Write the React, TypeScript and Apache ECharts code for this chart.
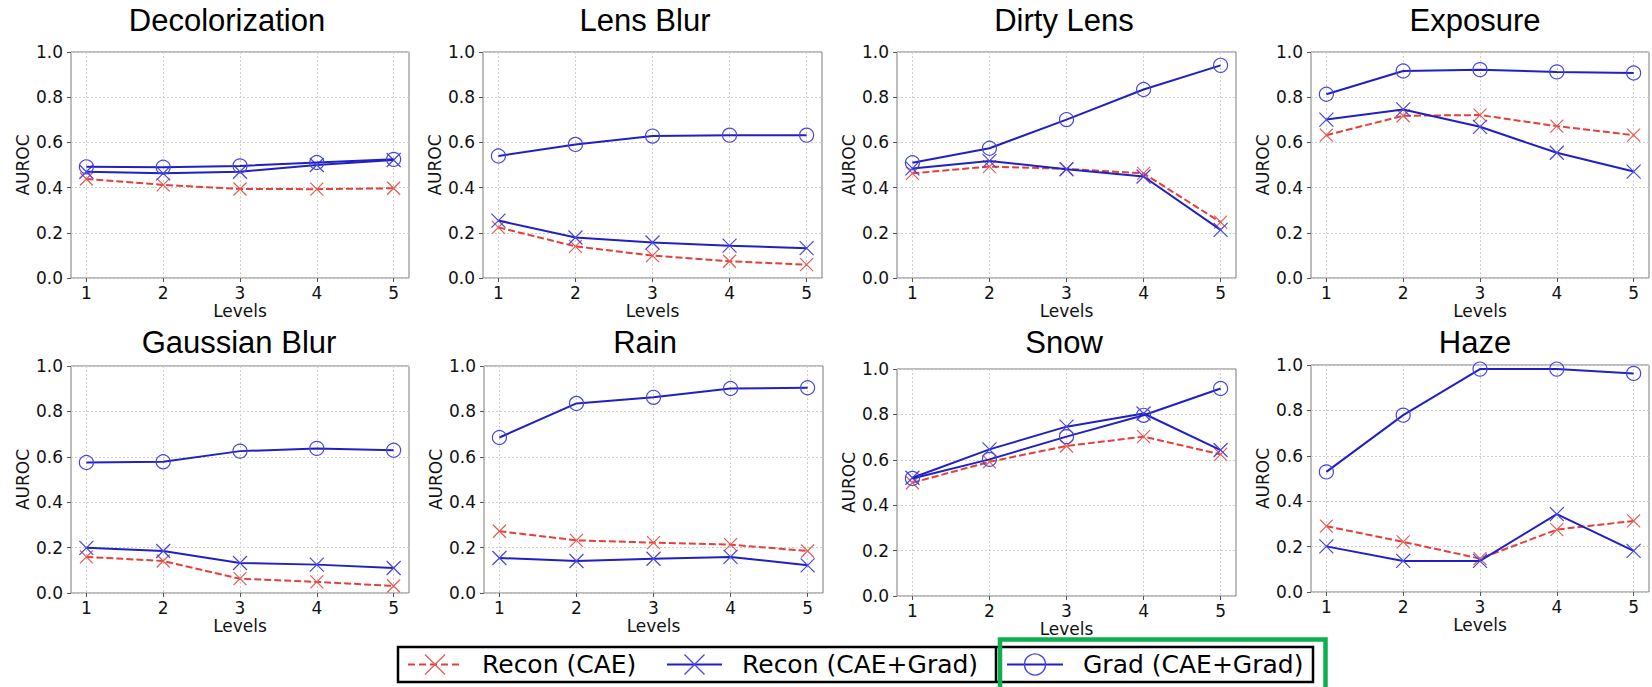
import React, { useEffect, useRef } from "react";
import * as echarts from "echarts";

const panelTitles = [
  "Decolorization",
  "Lens Blur",
  "Dirty Lens",
  "Exposure",
  "Gaussian Blur",
  "Rain",
  "Snow",
  "Haze",
];
const levels = [1, 2, 3, 4, 5];
const seriesNames = ["Recon (CAE)", "Recon (CAE+Grad)", "Grad (CAE+Grad)"];

const reconCAE = [
  [0.438, 0.412, 0.394, 0.393, 0.397],
  [0.224, 0.14, 0.099, 0.074, 0.059],
  [0.463, 0.493, 0.483, 0.463, 0.247],
  [0.632, 0.718, 0.721, 0.672, 0.632],
  [0.159, 0.141, 0.063, 0.049, 0.031],
  [0.272, 0.232, 0.222, 0.213, 0.185],
  [0.499, 0.591, 0.661, 0.702, 0.624],
  [0.29, 0.221, 0.147, 0.275, 0.313],
];
const reconCAEGrad = [
  [0.47, 0.463, 0.47, 0.5, 0.522],
  [0.254, 0.179, 0.157, 0.143, 0.132],
  [0.485, 0.518, 0.481, 0.449, 0.213],
  [0.701, 0.746, 0.669, 0.554, 0.471],
  [0.199, 0.185, 0.132, 0.125, 0.11],
  [0.154, 0.141, 0.151, 0.159, 0.122],
  [0.521, 0.646, 0.746, 0.804, 0.643],
  [0.201, 0.137, 0.137, 0.343, 0.181],
];
const gradCAEGrad = [
  [0.492, 0.49, 0.496, 0.511, 0.525],
  [0.54, 0.591, 0.628, 0.632, 0.632],
  [0.51, 0.574, 0.701, 0.834, 0.941],
  [0.813, 0.916, 0.922, 0.912, 0.907],
  [0.575, 0.578, 0.625, 0.637, 0.629],
  [0.685, 0.835, 0.862, 0.901, 0.904],
  [0.518, 0.602, 0.702, 0.796, 0.914],
  [0.529, 0.779, 0.982, 0.982, 0.963],
];

// layout (pixels)
const boxes = [
  { l: 71, t: 52, r: 409, b: 278 },
  { l: 483, t: 52, r: 822, b: 278 },
  { l: 897, t: 52, r: 1236, b: 278 },
  { l: 1311, t: 52, r: 1649, b: 278 },
  { l: 71, t: 366, r: 409, b: 593 },
  { l: 484, t: 366, r: 823, b: 593 },
  { l: 897, t: 369, r: 1236, b: 596 },
  { l: 1311, t: 365, r: 1649, b: 592 },
];
const titleCenters = [
  [227, 20],
  [645, 20],
  [1064, 20],
  [1475, 20],
  [239, 342],
  [645, 342],
  [1064, 342],
  [1475, 342],
];

const RED = "#e2403a";
const RED_M = "#e65a55";
const BLUE = "#2020c4";
const BLUE_M = "#4646e2";
const GREEN = "#0db04e";
const X_PATH = "path://M0,0L10,10M10,0L0,10";
const AX_FONT = "DejaVu Sans";

export default function App() {
  const ref = useRef<HTMLDivElement>(null);
  useEffect(() => {
    if (!ref.current) return;
    const chart = echarts.init(ref.current, null, { renderer: "svg" });

    const grids: any[] = [];
    const xAxes: any[] = [];
    const yAxes: any[] = [];
    const series: any[] = [];
    const graphics: any[] = [];

    boxes.forEach((bx, i) => {
      grids.push({
        left: bx.l,
        top: bx.t,
        width: bx.r - bx.l,
        height: bx.b - bx.t,
        show: true,
        borderColor: "#7a7a7a",
        borderWidth: 1,
        backgroundColor: "transparent",
      });
      xAxes.push({
        gridIndex: i,
        type: "value",
        min: 0.8,
        max: 5.2,
        name: "Levels",
        nameLocation: "middle",
        nameGap: 24,
        nameTextStyle: { fontFamily: AX_FONT, fontSize: 17, color: "#111" },
        axisLine: { show: false },
        axisTick: {
          show: true,
          customValues: levels,
          length: 4,
          lineStyle: { color: "#555" },
        },
        axisLabel: {
          customValues: levels,
          margin: 6,
          fontFamily: AX_FONT,
          fontSize: 17,
          color: "#111",
        },
        splitLine: {
          show: true,
          lineStyle: { color: "#cfcfcf", type: [2, 2], width: 1 },
        },
      });
      yAxes.push({
        gridIndex: i,
        type: "value",
        min: 0,
        max: 1,
        interval: 0.2,
        name: "AUROC",
        nameLocation: "middle",
        nameGap: 40,
        nameTextStyle: { fontFamily: AX_FONT, fontSize: 17, color: "#111" },
        axisLine: { show: false },
        axisTick: { show: true, length: 4, lineStyle: { color: "#555" } },
        axisLabel: {
          margin: 8,
          fontFamily: AX_FONT,
          fontSize: 17,
          color: "#111",
          formatter: (v: number) => v.toFixed(1),
        },
        splitLine: {
          show: true,
          lineStyle: { color: "#cfcfcf", type: [2, 2], width: 1 },
        },
      });

      series.push({
        type: "line",
        name: seriesNames[0],
        xAxisIndex: i,
        yAxisIndex: i,
        data: levels.map((l, j) => [l, reconCAE[i][j]]),
        symbol: X_PATH,
        symbolSize: 13,
        lineStyle: { color: RED, width: 2, type: [7, 3] },
        itemStyle: { color: "none", borderColor: RED_M, borderWidth: 1.2 },
        z: 2,
      });
      series.push({
        type: "line",
        name: seriesNames[1],
        xAxisIndex: i,
        yAxisIndex: i,
        data: levels.map((l, j) => [l, reconCAEGrad[i][j]]),
        symbol: X_PATH,
        symbolSize: 14,
        lineStyle: { color: BLUE, width: 2 },
        itemStyle: { color: "none", borderColor: BLUE_M, borderWidth: 1.2 },
        z: 3,
      });
      series.push({
        type: "line",
        name: seriesNames[2],
        xAxisIndex: i,
        yAxisIndex: i,
        data: levels.map((l, j) => [l, gradCAEGrad[i][j]]),
        symbol: "circle",
        symbolSize: 14,
        lineStyle: { color: BLUE, width: 2 },
        itemStyle: { color: "none", borderColor: BLUE_M, borderWidth: 1.2 },
        z: 4,
      });

      graphics.push({
        type: "text",
        x: titleCenters[i][0],
        y: titleCenters[i][1],
        style: {
          text: panelTitles[i],
          font: "31px 'Liberation Sans', Arial, sans-serif",
          fill: "#000",
          textAlign: "center",
          textVerticalAlign: "middle",
        },
      });
    });

    // legend
    const ly = 664.5;
    const legFont = "25px 'DejaVu Sans', sans-serif";
    const xMark = (cx: number, s: number, color: string) => [
      {
        type: "line",
        shape: { x1: cx - s, y1: ly - s, x2: cx + s, y2: ly + s },
        style: { stroke: color, lineWidth: 1.3 },
      },
      {
        type: "line",
        shape: { x1: cx - s, y1: ly + s, x2: cx + s, y2: ly - s },
        style: { stroke: color, lineWidth: 1.3 },
      },
    ];
    graphics.push(
      {
        type: "rect",
        shape: { x: 398, y: 647, width: 915, height: 35 },
        style: { fill: "#fff", stroke: "#000", lineWidth: 2.5 },
      },
      {
        type: "line",
        shape: { x1: 408, y1: ly, x2: 462, y2: ly },
        style: { stroke: RED, lineWidth: 2, lineDash: [7, 4] },
      },
      ...xMark(435, 10, RED_M),
      {
        type: "text",
        x: 482,
        y: ly,
        style: { text: seriesNames[0], font: legFont, fill: "#000", textVerticalAlign: "middle" },
      },
      {
        type: "line",
        shape: { x1: 667, y1: ly, x2: 722, y2: ly },
        style: { stroke: BLUE, lineWidth: 2 },
      },
      ...xMark(694.5, 10, BLUE_M),
      {
        type: "text",
        x: 742,
        y: ly,
        style: { text: seriesNames[1], font: legFont, fill: "#000", textVerticalAlign: "middle" },
      },
      {
        type: "line",
        shape: { x1: 996, y1: 647, x2: 996, y2: 682 },
        style: { stroke: "#000", lineWidth: 2.5 },
      },
      {
        type: "line",
        shape: { x1: 1007, y1: ly, x2: 1063, y2: ly },
        style: { stroke: BLUE, lineWidth: 2 },
      },
      {
        type: "circle",
        shape: { cx: 1035, cy: ly, r: 10.5 },
        style: { fill: "none", stroke: BLUE_M, lineWidth: 1.4 },
      },
      {
        type: "text",
        x: 1083,
        y: ly,
        style: { text: seriesNames[2], font: legFont, fill: "#000", textVerticalAlign: "middle" },
      },
      {
        type: "rect",
        shape: { x: 1000, y: 639.5, width: 325.5, height: 60 },
        style: { fill: "none", stroke: GREEN, lineWidth: 4.5 },
      }
    );

    chart.setOption({
      animation: false,
      backgroundColor: "#fff",
      grid: grids,
      xAxis: xAxes,
      yAxis: yAxes,
      series,
      graphic: graphics,
    });
    return () => chart.dispose();
  }, []);
  return (
    <div
      ref={ref}
      style={{ position: "fixed", left: 0, top: 0, width: 1652, height: 687 }}
    />
  );
}
